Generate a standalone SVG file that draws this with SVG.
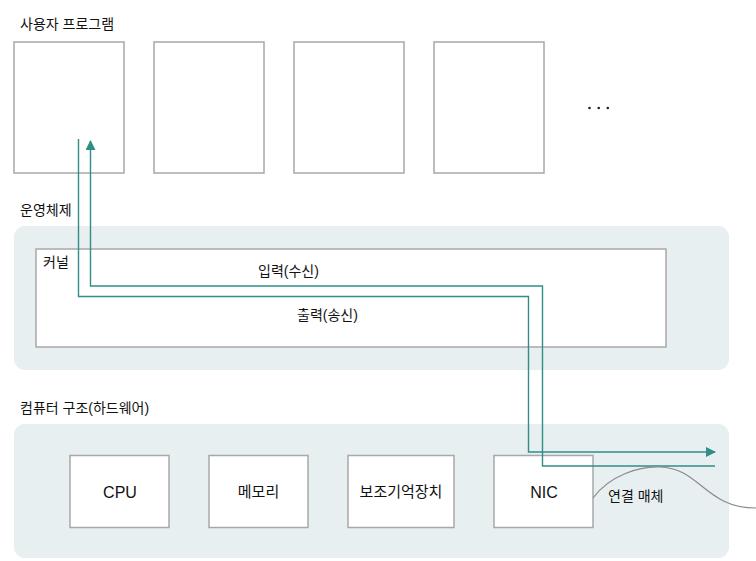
<svg xmlns="http://www.w3.org/2000/svg" width="756" height="561" viewBox="0 0 756 561">
<defs>
<style>
.t{font-family:"Liberation Sans","Noto Sans CJK KR",sans-serif;fill:#111;}
.h{font-size:14px;}
.n{font-size:15px;text-anchor:middle;}
.l{font-size:16px;}
.box{fill:#fff;stroke:#a8a8a8;stroke-width:1.5;}
.panel{fill:#e7eff0;}
.wire{fill:none;stroke:#338d87;stroke-width:1.4;}
</style>
<marker id="ah" viewBox="0 0 10 10" refX="9" refY="5" markerWidth="10" markerHeight="10" markerUnits="userSpaceOnUse" orient="auto">
<path d="M0,0 L10,5 L0,10 Z" fill="#338d87"/>
</marker>
</defs>
<rect width="756" height="561" fill="#fff"/>

<g id="user-programs">
<text class="t h" x="20" y="29">사용자 프로그램</text>
<rect id="prog1" class="box" x="14" y="42" width="110" height="131"/>
<rect id="prog2" class="box" x="154" y="42" width="110" height="131"/>
<rect id="prog3" class="box" x="294" y="42" width="110" height="131"/>
<rect id="prog4" class="box" x="434" y="42" width="110" height="131"/>
<g fill="#222"><circle cx="589.5" cy="108" r="1.3"/><circle cx="598.7" cy="108" r="1.3"/><circle cx="607.8" cy="108" r="1.3"/></g>
</g>

<g id="os">
<text class="t h" x="20" y="215">운영체제</text>
<rect class="panel" x="14" y="226" width="715" height="144" rx="11"/>
</g>
<g id="kernel">
<rect class="box" x="36" y="249" width="630" height="98"/>
<text class="t h" x="43" y="267">커널</text>
</g>

<g id="hardware">
<text class="t h" x="20" y="413">컴퓨터 구조(하드웨어)</text>
<rect class="panel" x="14" y="424" width="715" height="134" rx="11"/>
</g>
<g id="cpu"><rect class="box" x="70" y="455.5" width="99" height="72"/><text class="t n l" x="120" y="498">CPU</text></g>
<g id="memory"><rect class="box" x="209" y="455.5" width="99" height="72"/><text class="t n" x="258.5" y="497">메모리</text></g>
<g id="storage"><rect class="box" x="348" y="455.5" width="106" height="72"/><text class="t n" x="401" y="497">보조기억장치</text></g>
<g id="nic"><rect class="box" x="494" y="455.5" width="99" height="72"/><text class="t n l" x="544" y="498">NIC</text></g>

<g id="connectors">
<path class="wire" d="M78.5,139 V296.5 H528.5 V452 H715" marker-end="url(#ah)"/>
<path class="wire" d="M715,466 H542.5 V286 H90.5 V141" marker-end="url(#ah)"/>
<path d="M593,498 C610,475 640,466 660,467 C700,468 705,508 756,508" fill="none" stroke="#8a8a8a" stroke-width="1.2"/>
<text class="t h" x="258" y="276">입력(수신)</text>
<text class="t h" x="297" y="320">출력(송신)</text>
<text class="t h" x="608" y="501">연결 매체</text>
</g>
</svg>
